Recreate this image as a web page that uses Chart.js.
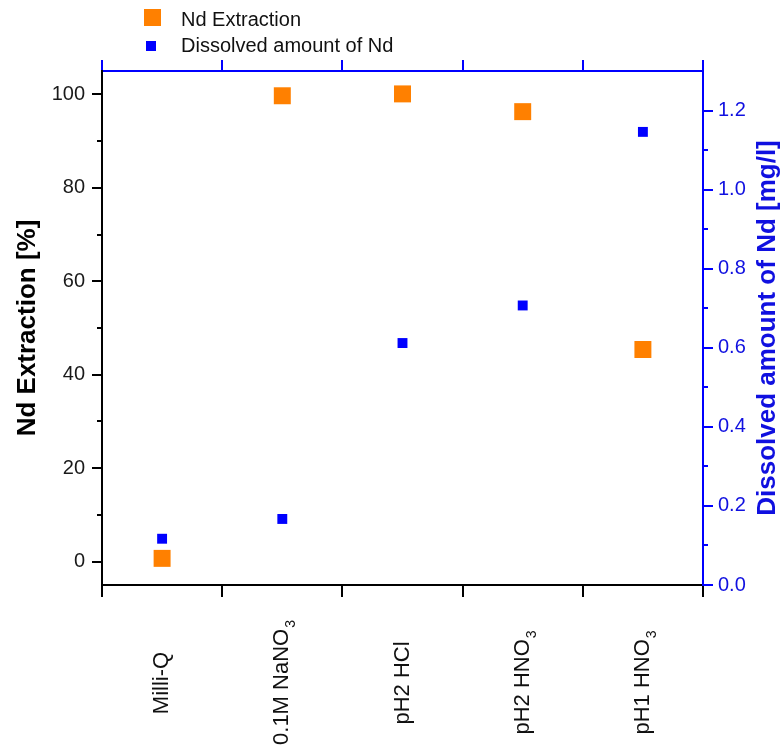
<!DOCTYPE html>
<html>
<head>
<meta charset="utf-8">
<script src="https://cdn.jsdelivr.net/npm/chart.js@4.4.1/dist/chart.umd.min.js"></script>
<style>
  body { margin: 0; background: #fff; }
  canvas { display: block; }
</style>
</head>
<body>
<canvas id="myChart" width="782" height="750"></canvas>
<script>
// category labels, split so the trailing "3" can be drawn as subscript
const labelMain = ["Milli-Q", "0.1M NaNO", "pH2 HCl", "pH2 HNO", "pH1 HNO"];
const labelSub = ["", "3", "", "3", "3"];
const categories = labelMain.map((t, i) => t + labelSub[i]);

// series values
const ndExtraction = [0.7, 99.7, 100.1, 96.3, 45.4];       // [%]
const dissolvedNd = [0.117, 0.167, 0.612, 0.707, 1.146];   // [mg/l]

// tick values
const leftTicks = [0, 20, 40, 60, 80, 100];
const leftMinorTicks = [10, 30, 50, 70, 90];
const rightTicks = [0, 0.2, 0.4, 0.6, 0.8, 1.0, 1.2];
const rightMinorTicks = [0.1, 0.3, 0.5, 0.7, 0.9, 1.1];

const FONT = '"Liberation Sans", Arial, sans-serif';
const ORANGE = "#ff8000";
const BLUE = "#0000ff";
const BLUE_TEXT = "#1010e0";

function setTicks(list) {
  return function (scale) {
    scale.ticks = list.map((v) => ({ value: v }));
  };
}

// legend, axis titles and category labels
const extras = {
  id: "extras",
  afterDraw(chart) {
    const ctx = chart.ctx;
    const area = chart.chartArea;
    const xs = chart.scales.x;
    const midY = (area.top + area.bottom) / 2;
    ctx.save();

    // legend
    ctx.fillStyle = ORANGE;
    ctx.fillRect(144, 9, 17, 17);
    ctx.fillStyle = BLUE;
    ctx.fillRect(146, 41, 10, 10);
    ctx.fillStyle = "#111";
    ctx.font = "20px " + FONT;
    ctx.textAlign = "left";
    ctx.textBaseline = "alphabetic";
    ctx.fillText("Nd Extraction", 181, 26);
    ctx.fillText("Dissolved amount of Nd", 181, 52);

    // axis titles
    ctx.font = "bold 26px " + FONT;
    ctx.textAlign = "center";
    ctx.textBaseline = "middle";
    ctx.save();
    ctx.translate(28, midY);
    ctx.rotate(-Math.PI / 2);
    ctx.fillStyle = "#000";
    ctx.fillText("Nd Extraction [%]", 0, 0);
    ctx.restore();
    ctx.save();
    ctx.translate(768, midY);
    ctx.rotate(-Math.PI / 2);
    ctx.fillStyle = BLUE_TEXT;
    ctx.fillText("Dissolved amount of Nd [mg/l]", 0, 0);
    ctx.restore();

    // rotated category labels, centred below the axis
    ctx.fillStyle = "#111";
    ctx.textAlign = "left";
    labelMain.forEach((t, i) => {
      const x = xs.getPixelForValue(i);
      ctx.save();
      ctx.translate(x, 683);
      ctx.rotate(-Math.PI / 2);
      ctx.font = "22px " + FONT;
      const w = ctx.measureText(t).width;
      ctx.font = "14px " + FONT;
      const ws = labelSub[i] ? ctx.measureText(labelSub[i]).width : 0;
      const x0 = -(w + ws) / 2;
      ctx.font = "22px " + FONT;
      ctx.fillText(t, x0, 0);
      if (labelSub[i]) {
        ctx.font = "14px " + FONT;
        ctx.fillText(labelSub[i], x0 + w + 1, 9);
      }
      ctx.restore();
    });

    ctx.restore();
  },
};

const ctx = document.getElementById("myChart");
new Chart(ctx, {
  type: "line",
  data: {
    labels: categories,
    datasets: [
      {
        label: "Nd Extraction",
        data: ndExtraction,
        yAxisID: "y",
        showLine: false,
        pointStyle: "rect",
        pointRadius: 12,
        pointBorderWidth: 0,
        backgroundColor: ORANGE,
        borderColor: ORANGE,
      },
      {
        label: "Dissolved amount of Nd",
        data: dissolvedNd,
        yAxisID: "y1",
        showLine: false,
        pointStyle: "rect",
        pointRadius: 7,
        pointBorderWidth: 0,
        backgroundColor: BLUE,
        borderColor: BLUE,
      },
    ],
  },
  options: {
    responsive: false,
    animation: false,
    events: [],
    layout: { padding: 0 },
    plugins: {
      legend: { display: false },
      tooltip: { enabled: false },
    },
    scales: {
      x: {
        type: "category",
        position: "bottom",
        offset: true,
        grid: { offset: true, drawOnChartArea: false, tickLength: 12, color: "#000", lineWidth: 2 },
        border: { display: true, color: "#000", width: 2 },
        ticks: { display: false },
        afterFit: (s) => { s.height = 750 - 585; },
      },
      xTop: {
        type: "category",
        position: "top",
        offset: true,
        grid: { offset: true, drawOnChartArea: false, tickLength: 11, color: BLUE, lineWidth: 2 },
        border: { display: true, color: BLUE, width: 2 },
        ticks: { display: false },
        afterFit: (s) => { s.height = 71; },
      },
      y: {
        type: "linear",
        position: "left",
        weight: 1,
        min: -5,
        max: 105,
        afterBuildTicks: setTicks(leftTicks),
        ticks: {
          padding: 7,
          color: "#1a1a1a",
          font: { family: FONT, size: 20 },
          callback: (v) => v,
        },
        grid: { drawOnChartArea: false, tickLength: 10, color: "#000", lineWidth: 2 },
        border: { display: true, color: "#000", width: 2 },
        afterFit: (s) => { s.width = 102; },
      },
      yMinor: {
        type: "linear",
        position: "left",
        weight: 0,
        min: -5,
        max: 105,
        afterBuildTicks: setTicks(leftMinorTicks),
        ticks: { display: false },
        grid: { drawOnChartArea: false, tickLength: 5, color: "#000", lineWidth: 2 },
        border: { display: false },
        afterFit: (s) => { s.width = 0; },
      },
      y1: {
        type: "linear",
        position: "right",
        weight: 1,
        min: 0,
        max: 1.3,
        afterBuildTicks: setTicks(rightTicks),
        ticks: {
          padding: 5,
          color: BLUE_TEXT,
          font: { family: FONT, size: 20 },
          callback: (v) => Number(v).toFixed(1),
        },
        grid: { drawOnChartArea: false, tickLength: 10, color: BLUE, lineWidth: 2 },
        border: { display: true, color: BLUE, width: 2 },
        afterFit: (s) => { s.width = 782 - 703; },
      },
      y1Minor: {
        type: "linear",
        position: "right",
        weight: 0,
        min: 0,
        max: 1.3,
        afterBuildTicks: setTicks(rightMinorTicks),
        ticks: { display: false },
        grid: { drawOnChartArea: false, tickLength: 5, color: BLUE, lineWidth: 2 },
        border: { display: false },
        afterFit: (s) => { s.width = 0; },
      },
    },
  },
  plugins: [extras],
});
</script>
</body>
</html>
